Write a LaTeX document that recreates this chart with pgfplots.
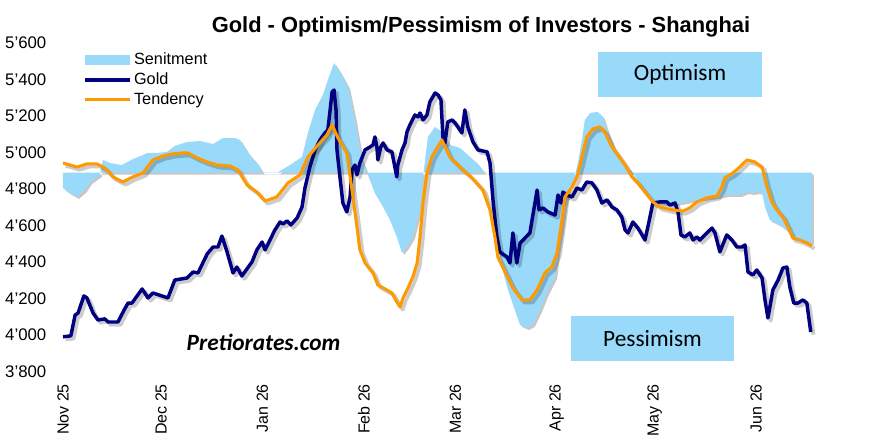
\documentclass[border=0pt]{standalone}
\usepackage{fontspec}
\setmainfont{Liberation Sans}
\newfontfamily\carlito{Carlito}
\usepackage{pgfplots}
\pgfplotsset{compat=1.18}
\usepackage{pgfplotstable}
\definecolor{sentblue}{RGB}{153,217,250}
\definecolor{goldnavy}{RGB}{0,0,128}
\definecolor{tendorange}{RGB}{255,153,0}

\pgfplotstableread{
d v
0 4890
0 4805
2.1 4778
4.3 4756
6.7 4794
8.3 4838
11.3 4877
12.2 4959
14.4 4942
18.0 4931
21.4 4964
24.5 4986
25.7 4997
28.7 4997
31.8 5003
34.2 5036
37.9 5057
41.9 5063
45.9 5046
48.9 5079
52.6 5079
54.1 5068
56.6 4997
59.3 4942
61.2 4888
65.4 4888
69.4 4931
73.1 4975
74.9 5107
77.1 5233
79.5 5315
81.0 5397
82.9 5490
84.7 5441
87.2 5359
89.3 5178
91.4 4959
93.0 4888
95.4 4777
97.9 4701
100.0 4630
102.1 4537
103.7 4449
105.2 4482
107.0 4537
109.2 4685
110.1 4866
111.6 5085
113.8 5140
115.9 5112
118.3 5041
121.4 5025
124.5 4975
126.6 4942
129.0 4888
130.6 4888
131.5 4701
132.7 4537
134.2 4372
136.1 4246
138.2 4137
139.8 4055
141.9 4038
143.7 4055
145.9 4137
148.0 4230
150.5 4318
151.4 4449
152.6 4575
153.5 4701
155.0 4811
156.6 4877
157.5 4942
158.7 5068
159.6 5178
161.2 5216
163.6 5222
165.1 5195
166.7 5107
168.8 5014
170.9 4959
172.8 4915
174.9 4877
176.4 4811
178.0 4794
181.0 4729
185.6 4712
188.7 4723
193.9 4740
200.0 4756
203.0 4767
207.0 4767
209.2 4783
210.7 4778
212.5 4783
213.8 4778
214.7 4701
216.2 4630
219.3 4603
222.3 4559
225.4 4520
229.0 4504
229.0 4890
}\sentiment

\pgfplotstableread{
d v
0 3990
2.4 3995
3.7 4109
4.6 4120
6.4 4214
7.3 4203
9.2 4120
10.7 4082
12.8 4088
13.8 4071
16.8 4071
18.7 4137
19.9 4175
21.1 4175
24.2 4252
26.0 4203
27.5 4230
32.1 4203
34.2 4301
37.9 4312
39.8 4345
41.3 4340
44.1 4444
45.9 4482
47.4 4482
48.6 4542
50.1 4460
52.0 4340
53.2 4372
54.7 4323
57.8 4400
59.3 4466
60.9 4509
61.8 4466
63.3 4520
64.8 4575
66.4 4619
67.3 4608
68.5 4625
69.7 4603
71.6 4641
73.1 4701
74.0 4805
75.5 4920
77.1 5014
78.6 5068
80.1 5107
81.0 5123
81.7 5233
82.3 5331
82.9 5342
83.5 5233
83.8 5014
84.7 4866
85.6 4723
86.8 4674
87.8 4756
88.4 4904
89.3 4931
89.9 4877
90.8 4942
92.4 5014
93.9 5030
94.8 5041
95.4 5085
96.0 5030
96.3 4959
97.2 5030
97.9 5052
99.1 5014
100.6 5003
101.5 4920
102.1 4866
102.4 4931
103.7 5014
104.6 5052
105.2 5112
106.1 5151
107.6 5205
108.6 5195
109.2 5216
110.1 5178
111.3 5205
112.2 5277
113.8 5326
114.7 5315
115.6 5288
116.2 5085
116.8 5052
117.7 5167
119.0 5178
119.9 5162
122.0 5107
122.9 5233
123.8 5140
125.4 5057
126.9 5014
129.7 5003
130.6 4942
131.5 4740
132.7 4537
133.6 4455
135.8 4427
136.7 4394
137.6 4559
138.8 4394
139.8 4504
141.3 4531
142.8 4559
145.0 4794
145.6 4685
146.8 4696
148.3 4674
150.5 4657
151.4 4767
152.3 4723
152.9 4783
154.1 4767
155.7 4756
157.2 4805
158.7 4794
160.2 4838
161.8 4833
163.3 4794
164.8 4723
166.4 4740
167.9 4701
169.4 4685
170.9 4646
171.9 4575
172.8 4559
174.3 4619
175.8 4586
177.1 4548
178.0 4520
179.2 4619
180.4 4723
182.6 4729
184.7 4729
185.6 4712
187.2 4723
188.1 4674
189.0 4548
190.2 4537
191.7 4559
192.7 4520
193.9 4537
194.8 4520
196.3 4548
198.5 4586
199.4 4559
200.9 4455
203.0 4548
204.6 4520
206.1 4482
207.6 4482
208.6 4493
209.5 4345
211.0 4329
212.2 4356
213.8 4312
214.7 4192
215.6 4093
216.2 4153
217.1 4246
218.7 4301
220.2 4367
221.4 4372
222.3 4263
223.5 4175
224.8 4175
226.3 4192
227.5 4175
228.7 4016
}\gold

\pgfplotstableread{
d v
0 4942
4.3 4920
7.3 4937
10.4 4937
12.8 4915
15.3 4866
18.3 4838
21.4 4866
24.5 4888
27.5 4959
30.6 4981
33.6 4992
36.7 4997
38.2 4997
41.0 4970
44.0 4948
47.1 4931
51.1 4926
53.5 4904
56.3 4822
59.3 4783
61.8 4734
65.4 4756
68.8 4833
72.5 4877
74.9 4975
78.0 5041
80.7 5096
82.3 5151
84.1 5079
86.8 4997
88.4 4794
89.9 4592
90.8 4466
92.4 4394
94.8 4340
96.3 4274
99.1 4246
100.6 4230
102.1 4181
103.1 4153
104.0 4203
105.5 4257
107.0 4318
108.3 4394
109.2 4537
110.1 4723
111.3 4888
112.8 4975
115.9 5068
118.3 4975
121.4 4920
125.1 4860
128.4 4794
130.6 4685
132.1 4537
133.0 4427
135.2 4345
137.6 4257
140.4 4192
142.8 4192
145.0 4246
147.4 4340
149.5 4372
151.1 4449
152.6 4630
153.5 4756
155.7 4811
157.2 4866
158.7 4975
160.2 5085
162.1 5129
164.2 5140
165.7 5112
167.9 5030
169.7 4986
171.9 4931
174.0 4866
175.8 4833
178.0 4783
180.4 4729
182.6 4701
186.5 4685
189.6 4679
191.7 4696
193.9 4729
196.9 4751
200.0 4762
201.4 4805
202.4 4860
204.9 4888
207.0 4920
209.2 4959
211.6 4948
213.8 4920
215.3 4811
216.8 4729
218.3 4685
220.2 4646
221.7 4592
223.2 4531
225.4 4520
227.5 4504
229.0 4488
}\tendency

\begin{document}
\begin{tikzpicture}
\useasboundingbox (-47.25pt,-56.6pt) rectangle (623.25pt,278.6pt);
\begin{axis}[
  at={(0pt,0pt)}, anchor=south west,
  scale only axis, width=600.8pt, height=246.4pt,
  xmin=0, xmax=245, ymin=3800, ymax=5600,
  axis line style={draw=none}, tick style={draw=none}, major tick length=0pt,
  xtick={0,30,61,92,120,151,181,212},
  xticklabels={Nov 25,Dec 25,Jan 26,Feb 26,Mar 26,Apr 26,May 26,Jun 26},
  ytick={3800,4000,4200,4400,4600,4800,5000,5200,5400,5600},
  scaled y ticks=false,
  /pgf/number format/1000 sep={’},
  /pgf/number format/assume math mode=true,
  xticklabel style={font=\fontsize{12}{14}\selectfont, rotate=90, anchor=east},
  yticklabel style={font=\fontsize{12.6}{14}\selectfont},
  xticklabel shift=6pt, yticklabel shift=9pt,
  legend style={draw=none, fill=none, at={(axis description cs:0.025,0.976)},
    anchor=north west, font=\fontsize{12.2}{14}\selectfont, row sep=1.6pt,
    inner sep=0pt, nodes={inner sep=1.5pt}},
  legend cell align=left,
  line join=round,
]
\addplot[forget plot, draw=none, fill=black, opacity=0.22, xshift=1.5pt, yshift=-1.5pt] table[x=d,y=v]{\sentiment};
\addplot[draw=none, fill=sentblue,
  legend image code/.code={\fill[sentblue] (0pt,-3.75pt) rectangle (34pt,3.75pt);}]
  table[x=d,y=v]{\sentiment};
\addlegendentry{Senitment}
\addplot[forget plot, black, opacity=0.2, line width=3pt, xshift=2pt, yshift=-2pt] table[x=d,y=v]{\gold};
\addplot[goldnavy, line width=2.6pt,
  legend image code/.code={\draw[goldnavy, line width=2.6pt] (0pt,0pt) -- (34pt,0pt);}]
  table[x=d,y=v]{\gold};
\addlegendentry{Gold}
\addplot[forget plot, black, opacity=0.2, line width=2.8pt, xshift=2pt, yshift=-2pt] table[x=d,y=v]{\tendency};
\addplot[tendorange, line width=2.3pt,
  legend image code/.code={\draw[tendorange, line width=2.3pt] (0pt,0pt) -- (34pt,0pt);}]
  table[x=d,y=v]{\tendency};
\addlegendentry{Tendency}
\end{axis}
\node[font=\bfseries\fontsize{16.4}{19}\selectfont] at (313.5pt,258.4pt) {Gold - Optimism/Pessimism of Investors - Shanghai};
\node[fill=sentblue, minimum width=123pt, minimum height=33.75pt, inner sep=0pt, font=\carlito\fontsize{17.5}{20}\selectfont] at (462.75pt,222.75pt) {Optimism};
\node[fill=sentblue, minimum width=122.25pt, minimum height=33.75pt, inner sep=0pt, font=\carlito\fontsize{17.5}{20}\selectfont] at (442.1pt,24.75pt) {Pessimism};
\node[font=\carlito\bfseries\itshape\fontsize{17.5}{20}\selectfont] at (150.4pt,22.1pt) {Pretiorates.com};
\end{tikzpicture}
\end{document}
